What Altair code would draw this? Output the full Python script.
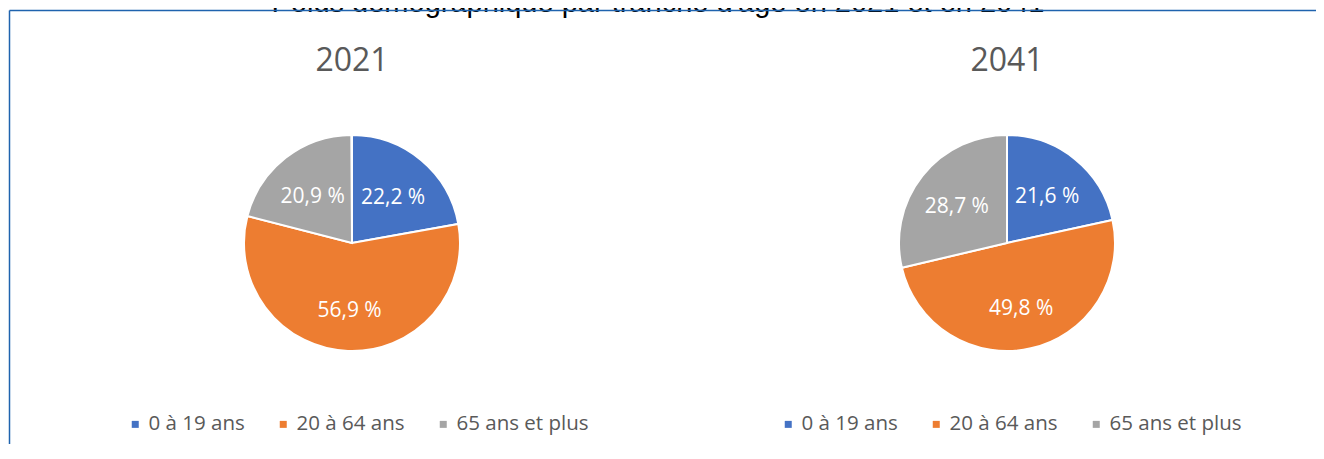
import altair as alt
import pandas as pd

# ---- data ----
categories = ["0 à 19 ans", "20 à 64 ans", "65 ans et plus"]
colors = ["#4472C4", "#ED7D31", "#A5A5A5"]
years = ["2021", "2041"]
values_2021 = [22.2, 56.9, 20.9]
values_2041 = [21.6, 49.8, 28.7]
main_title = "Poids démographique par tranche d'âge en 2021 et en 2041"

def frame(year, vals):
    return pd.DataFrame({
        "year": [year] * len(categories),
        "cat": categories,
        "idx": list(range(len(categories))),
        "value": vals,
        "label": [f"{v:.1f} %".replace(".", ",") for v in vals],
    })

df21 = frame(years[0], values_2021)
df41 = frame(years[1], values_2041)
df_years = pd.DataFrame({"year": years})
df_title = pd.DataFrame({"t": [main_title]})
one = pd.DataFrame({"k": [0]})

FONT = "Open Sans"
GREY = "#595959"
R = 108
CY = 235

xenc = alt.X("year:N", scale=alt.Scale(type="point", range=[344, 999], padding=0), axis=None)


def pie(df, lx):
    legend = alt.Legend(
        orient="none", legendX=lx, legendY=406, direction="horizontal", title=None,
        symbolType="square", symbolSize=49, symbolStrokeWidth=0,
        labelFontSize=20.5, labelFont=FONT, labelColor=GREY,
        columnPadding=28, labelOffset=3, padding=0,
    )
    arcs = alt.Chart(df).mark_arc(outerRadius=R, stroke="white", strokeWidth=2).encode(
        theta=alt.Theta("value:Q", stack=True),
        color=alt.Color("cat:N", scale=alt.Scale(domain=categories, range=colors), legend=legend),
        order=alt.Order("idx:Q"),
        x=xenc,
        y=alt.value(CY),
    )
    labels = alt.Chart(df).mark_text(radius=64, fontSize=21, font=FONT, color="white",
                                     align="center", baseline="middle").encode(
        theta=alt.Theta("value:Q", stack=True),
        detail="cat:N",
        order=alt.Order("idx:Q"),
        text="label:N",
        x=xenc,
        y=alt.value(CY + 4),
    )
    return arcs, labels


a1, l1 = pie(df21, 117)
a2, l2 = pie(df41, 770)

year_titles = alt.Chart(df_years).mark_text(fontSize=32, font=FONT, color=GREY,
                                           align="center", baseline="alphabetic").encode(
    x=xenc, y=alt.value(63), text="year:N"
)

cut_title = alt.Chart(df_title).mark_text(fontSize=29, font="Liberation Sans", color="black",
                                         align="center", baseline="alphabetic").encode(
    x=alt.value(650), y=alt.value(4), text="t:N"
)

border_color = "#1F63AE"
left_rule = alt.Chart(one).mark_rule(color=border_color, strokeWidth=1.5).encode(
    x=alt.value(1.5), x2=alt.value(1.5), y=alt.value(2.5), y2=alt.value(452)
)
top_rule = alt.Chart(one).mark_rule(color=border_color, strokeWidth=1.5).encode(
    x=alt.value(1.5), x2=alt.value(1308), y=alt.value(2.5), y2=alt.value(2.5)
)

chart = alt.layer(a1, l1, a2, l2, year_titles, cut_title, left_rule, top_rule).resolve_scale(
    color="independent"
).properties(
    width=1308, height=436,
    autosize=alt.AutoSizeParams(type="none"),
    padding=0,
).configure_view(stroke=None)

chart.save("out.html", embed_options={"renderer": "svg", "actions": False})
